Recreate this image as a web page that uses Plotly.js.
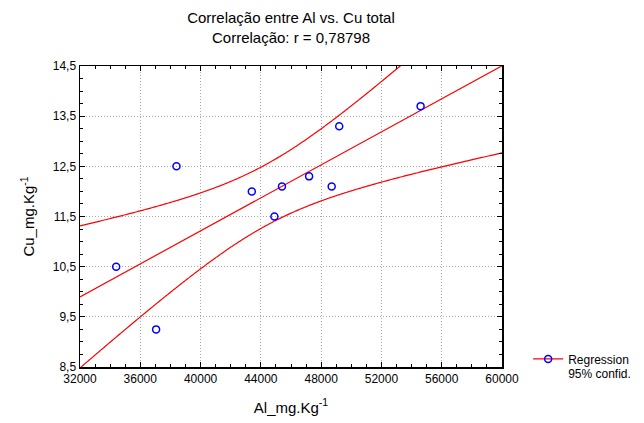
<!DOCTYPE html>
<html><head><meta charset="utf-8">
<script src="https://cdn.plot.ly/plotly-3.0.1.min.js"></script>
<style>html,body{margin:0;padding:0;background:#fff}</style>
</head><body><div id="chart" style="width:644px;height:423px"></div>
<script>
// Data
const alValues = [34400, 37050, 38400, 43400, 44900, 45400, 47200, 48700, 49200, 54600];
const cuValues = [10.5, 9.25, 12.5, 12.0, 11.5, 12.1, 12.3, 12.1, 13.3, 13.7];
const xRange = [32000, 60000];
const yRange = [8.5, 14.5];
const titleLines = ['Correlação entre Al vs. Cu total', 'Correlação: r = 0,78798'];
const xTitle = 'Al_mg.Kg<sup>-1</sup>';
const yTitle = 'Cu_mg.Kg<sup>-1</sup>';
const legendNames = ['Regression', '95% confid.'];
const tCrit = 2.306; // t(0.975, df = 8)

// Least squares fit and 95% confidence band for the mean
const n = alValues.length;
const mx = alValues.reduce((a, b) => a + b, 0) / n;
const my = cuValues.reduce((a, b) => a + b, 0) / n;
let sxx = 0, sxy = 0, syy = 0;
for (let i = 0; i < n; i++) {
  sxx += (alValues[i] - mx) ** 2;
  sxy += (alValues[i] - mx) * (cuValues[i] - my);
  syy += (cuValues[i] - my) ** 2;
}
const slope = sxy / sxx;
const icpt = my - slope * mx;
const s = Math.sqrt((syy - slope * sxy) / (n - 2));
const gx = [], fit = [], up = [], lo = [];
const steps = 200;
for (let k = 0; k <= steps; k++) {
  const x = xRange[0] + (xRange[1] - xRange[0]) * k / steps;
  const yh = icpt + slope * x;
  const h = tCrit * s * Math.sqrt(1 / n + (x - mx) ** 2 / sxx);
  gx.push(x); fit.push(yh); up.push(yh + h); lo.push(yh - h);
}

const red = '#ff0000', blue = '#0000ff';
const traces = [
  {x: gx, y: up, mode: 'lines', line: {color: red, width: 1.2, shape: 'spline'}, showlegend: false, hoverinfo: 'skip'},
  {x: gx, y: lo, mode: 'lines', line: {color: red, width: 1.2, shape: 'spline'}, showlegend: false, hoverinfo: 'skip'},
  {x: gx, y: fit, mode: 'lines', line: {color: red, width: 1.2}, showlegend: false, hoverinfo: 'skip'},
  {x: alValues, y: cuValues, mode: 'markers', showlegend: false,
   marker: {symbol: 'circle-open', size: 7, color: blue, line: {width: 1.5, color: blue}}},
  {x: [null], y: [null], mode: 'lines+markers', name: legendNames[0],
   line: {color: red, width: 1.2},
   marker: {symbol: 'circle-open', size: 7, color: blue, line: {width: 1.5, color: blue}}},
  {x: [null], y: [null], mode: 'lines', name: legendNames[1], legend: 'legend2',
   line: {color: 'rgba(0,0,0,0)', width: 1}}
];

const font = {family: 'Liberation Sans, Arial, sans-serif', color: '#000'};
const axisCommon = {
  showline: true, linecolor: '#000', linewidth: 1.5, mirror: 'allticks',
  ticks: 'inside', ticklen: 5, tickwidth: 1, tickcolor: '#000',
  showgrid: true, gridcolor: '#a8a8a8', griddash: '1px,2px', gridwidth: 1,
  zeroline: false, tickfont: {size: 12, family: font.family, color: '#000'}
};
const legendCommon = {xanchor: 'left', yanchor: 'top', bgcolor: 'rgba(0,0,0,0)',
  font: {size: 12, family: font.family, color: '#000'}, itemwidth: 30, tracegroupgap: 0};
const layout = {
  width: 644, height: 423,
  margin: {l: 80, r: 142, t: 66, b: 56, autoexpand: false},
  paper_bgcolor: '#fff', plot_bgcolor: '#fff',
  separators: ',',
  font: font,
  title: {text: titleLines.join('<br>'), x: 0.5, xref: 'paper', yref: 'container', y: 0.945, yanchor: 'top',
          font: {size: 15, family: font.family, color: '#000'}},
  xaxis: Object.assign({}, axisCommon, {
    range: xRange, tick0: 32000, dtick: 4000, tickformat: 'd', exponentformat: 'none',
    minor: {dtick: 1000, ticks: 'inside', ticklen: 3, tickcolor: '#000', showgrid: false},
    title: {text: xTitle, font: {size: 15, family: font.family, color: '#000'}, standoff: 17}
  }),
  yaxis: Object.assign({}, axisCommon, {
    range: yRange, tick0: 8.5, dtick: 1, tickformat: '.1f',
    minor: {dtick: 0.25, ticks: 'inside', ticklen: 3, tickcolor: '#000', showgrid: false},
    title: {text: yTitle, font: {size: 15, family: font.family, color: '#000'}, standoff: 14}
  }),
  legend: Object.assign({}, legendCommon, {x: 1.062, y: 0.075}),
  legend2: Object.assign({}, legendCommon, {x: 1.062, y: 0.026}),
  showlegend: true
};
Plotly.newPlot('chart', traces, layout, {displayModeBar: false, staticPlot: true});
</script></body></html>
